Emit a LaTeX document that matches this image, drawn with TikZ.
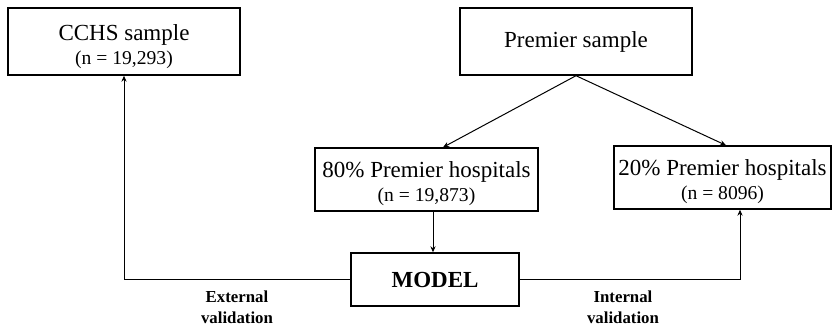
\documentclass[tikz,border=0pt]{standalone}
\usepackage{fontspec}
\setmainfont{Liberation Serif}
\usetikzlibrary{arrows.meta}

\begin{document}
\begin{tikzpicture}[x=0.5pt, y=-0.5pt,
    box/.style={draw, line width=0.7pt, inner sep=0pt, align=center,
        font=\fontsize{11.5}{12}\selectfont},
    vlabel/.style={align=center, font=\fontsize{8.4}{10.5}\selectfont\bfseries},
    link/.style={line width=0.5pt, -{Stealth[length=3pt, width=2.6pt]}}]
    \useasboundingbox (0,0) rectangle (832,329);

    % Samples
    \node[box, minimum width=116pt, minimum height=33.5pt] (cchs) at (124,41.5)
        {\rule{0pt}{13pt}CCHS sample\\{\fontsize{9.8}{12}\selectfont (n = 19,293)}};
    \node[box, minimum width=116pt, minimum height=33.5pt] (premier) at (576,41.5)
        {Premier sample};

    % Split of Premier hospitals
    \node[box, minimum width=111.5pt, minimum height=31.5pt] (p80) at (426.5,179.5)
        {\rule{0pt}{12pt}80\% Premier hospitals\\{\fontsize{9.8}{12}\selectfont (n = 19,873)}};
    \node[box, minimum width=108.5pt, minimum height=31.5pt] (p20) at (722.5,177.5)
        {\rule{0pt}{12pt}20\% Premier hospitals\\{\fontsize{9.8}{12}\selectfont (n = 8096)}};

    % Model
    \node[box, minimum width=84pt, minimum height=26.5pt] (model) at (435,279.5)
        {\textbf{MODEL}};

    % Arrows
    \draw[link] (premier.south) -- ([xshift=8.25pt]p80.north);
    \draw[link] (premier.south) -- ([xshift=1.75pt]p20.north);
    \draw[link] ([xshift=3.25pt]p80.south) -- ([xshift=-1pt]model.north);

    % Validation
    \draw[link] (model.west) -| (cchs.south);
    \draw[link] (model.east) -| ([xshift=8.75pt]p20.south);
    \node[vlabel] (ext) at (237,307.5) {External\\validation};
    \node[vlabel] (int) at (623,307.5) {Internal\\validation};
\end{tikzpicture}
\end{document}
